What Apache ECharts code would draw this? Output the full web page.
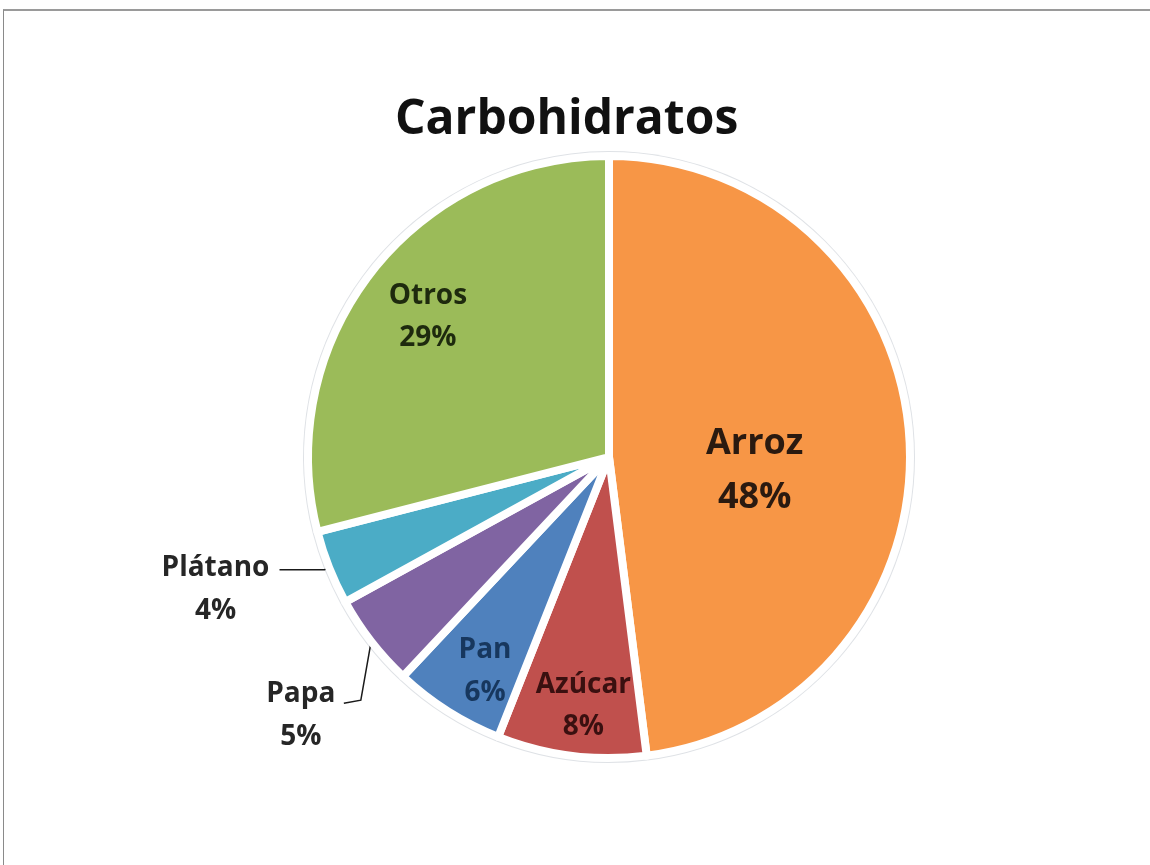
<!DOCTYPE html>
<html>
<head>
<meta charset="utf-8">
<title>Carbohidratos</title>
<script src="https://cdn.jsdelivr.net/npm/echarts@6/dist/echarts.min.js"></script>
<style>
  html, body { margin: 0; padding: 0; background: #fff; }
  #frame {
    position: absolute; left: 3px; top: 9px; width: 1200px; height: 900px;
    border-top: 2px solid #9a9a9a; border-left: 1px solid #8a8a8a;
  }
  #chart { position: absolute; left: 0; top: 0; width: 1150px; height: 865px; }
</style>
</head>
<body>
<div id="frame"></div>
<div id="chart"></div>
<script>
// datos del gráfico
const categories = ["Arroz", "Azúcar", "Pan", "Papa", "Plátano", "Otros"];
const values = [48, 8, 6, 5, 4, 29];

// estilos (colores de relleno y de texto)
const palette = ["#f79646", "#c0504d", "#4f81bd", "#8064a2", "#4bacc6", "#9bbb59"];
const textColors = ["#2a1a10", "#3a1010", "#17375e", "#262626", "#262626", "#1e2a0e"];

const FONT = "'Open Sans', 'DejaVu Sans', sans-serif";
const CENTER = [609, 457];
const R = 298;

const myChart = echarts.init(document.getElementById("chart"));

// texto con dos líneas centradas
const richText = (i, size, lh, w) => ({
  t: {
    fontFamily: FONT, fontWeight: "bold", fontSize: size, lineHeight: lh,
    color: textColors[i], width: w, align: "center",
  },
});

// etiquetas fuera: Papa y Plátano
const outsideLabel = {
  3: { length: 8, length2: 12, padding: [0, 0, 0, 0] },
  4: { length: 5, length2: 45, padding: [40, 0, 0, 0] },
};

const mainData = categories.map((name, i) => {
  const item = { name, value: values[i], itemStyle: { color: palette[i] } };
  if (outsideLabel[i]) {
    item.label = {
      show: true,
      position: "outside",
      formatter: "{t|{b}}\n{t|{c}%}",
      padding: outsideLabel[i].padding,
      rich: richText(i, 28, 43, i === 4 ? 118 : 80),
    };
    item.labelLine = {
      show: true,
      length: outsideLabel[i].length,
      length2: outsideLabel[i].length2,
      lineStyle: { color: "#1a1a1a", width: 1.5 },
    };
  }
  return item;
});

// capa de etiquetas interiores (anillo transparente)
// [altura de línea, relleno]
const ringLabels = {
  1: [42, [14, 0, 0, 10]],
  2: [43, [16, 0, 0, 14]],
  5: [42, [20, 0, 0, 24]],
};
const ringData = categories.map((name, i) => ({
  name,
  value: values[i],
  label: ringLabels[i]
    ? {
        show: true,
        formatter: "{t|{b}}\n{t|{c}%}",
        padding: ringLabels[i][1],
        rich: { t: { fontFamily: FONT, fontWeight: "bold", fontSize: 28, lineHeight: ringLabels[i][0], color: textColors[i] } },
      }
    : { show: false },
}));

const arrozData = categories.map((name, i) => ({
  name,
  value: values[i],
  label: i === 0
    ? {
        show: true,
        formatter: "{t|{b}}\n{t|{c}%}",
        padding: [46, 6, 0, 0],
        rich: { t: { fontFamily: FONT, fontWeight: "bold", fontSize: 36, lineHeight: 54, color: textColors[i] } },
      }
    : { show: false },
}));

const transparentStyle = { color: "rgba(0,0,0,0)", borderWidth: 0 };

// Papa: etiqueta más abajo, con su línea guía
const papaLayout = (params) => {
  if (params.dataIndex !== 3) return {};
  const rect = params.labelRect;
  const dx = -7;
  const dy = 53;
  const right = rect.x + rect.width + dx;
  const lineY = rect.y + dy + 23;
  return {
    dx,
    dy,
    labelLinePoints: [params.labelLinePoints[0], [right + 20, lineY - 3], [right + 3, lineY]],
  };
};

const options = {
  animation: false,
  title: {
    text: "Carbohidratos",
    left: 390,
    top: 91,
    textStyle: { fontFamily: FONT, fontWeight: "bold", fontSize: 48, color: "#111" },
  },
  series: [
    // contorno gris
    {
      type: "pie",
      silent: true,
      z: 1,
      center: CENTER,
      radius: [0, R + 8],
      label: { show: false },
      labelLine: { show: false },
      itemStyle: { color: "#dfe2e6", borderWidth: 0 },
      data: values.map((v, i) => ({ name: categories[i], value: v })),
    },
    // pastel principal
    {
      type: "pie",
      z: 2,
      center: CENTER,
      radius: [0, R + 3],
      startAngle: 90,
      clockwise: true,
      itemStyle: { borderColor: "#ffffff", borderWidth: 8 },
      label: { show: false },
      labelLine: { show: false },
      emphasis: { disabled: true },
      labelLayout: papaLayout,
      data: mainData,
    },
    // etiquetas interiores (Otros, Pan, Azúcar)
    {
      type: "pie",
      silent: true,
      z: 3,
      center: CENTER,
      radius: [R * 0.62, R],
      itemStyle: transparentStyle,
      label: { position: "inside" },
      labelLine: { show: false },
      data: ringData,
    },
    // etiqueta de Arroz
    {
      type: "pie",
      silent: true,
      z: 3,
      center: CENTER,
      radius: [0, R * 0.98],
      itemStyle: transparentStyle,
      label: { position: "inside" },
      labelLine: { show: false },
      data: arrozData,
    },
  ],
};

myChart.setOption(options);
</script>
</body>
</html>
